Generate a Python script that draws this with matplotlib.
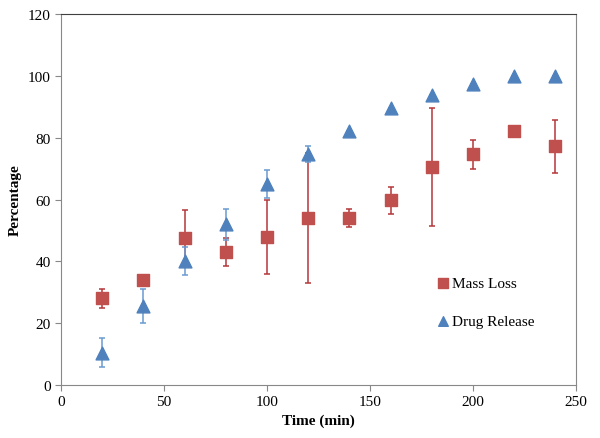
import matplotlib
matplotlib.use("Agg")
import matplotlib.pyplot as plt

time = [20, 40, 60, 80, 100, 120, 140, 160, 180, 200, 220, 240]
mass_loss = [28, 34, 47.5, 43, 48, 54, 54, 59.7, 70.5, 74.7, 82, 77.2]
mass_err = [3, 0, 9, 4.5, 12, 21, 2.8, 4.5, 19, 4.7, 0, 8.6]
drug_release = [10.5, 25.5, 40, 52, 65, 74.7, 82, 89.5, 93.7, 97.5, 100, 100]
drug_err = [4.7, 5.5, 4.5, 5, 4.5, 2.5, 0, 0, 0, 0, 0, 0]

red = '#C0504D'
blue = '#4F81BD'

plt.rcParams['font.family'] = ['Liberation Serif', 'DejaVu Serif']

fig = plt.figure(figsize=(6, 4.39), dpi=100)
ax = fig.add_axes([0.1017, 0.1207, 0.8583, 0.8451])

ax.errorbar(time, mass_loss, yerr=mass_err, fmt='none', ecolor='#B5373A',
            elinewidth=1.1, capsize=2, capthick=1.1)
ax.errorbar(time, drug_release, yerr=drug_err, fmt='none', ecolor='#6A9AD0',
            elinewidth=1.1, capsize=2, capthick=1.1)
ax.scatter(time, mass_loss, marker='s', s=85, color=red, label='Mass Loss', zorder=3)
ax.scatter(time, drug_release, marker='^', s=85, color=blue, label='Drug Release', zorder=3)

ax.set_xlim(0, 250)
ax.set_ylim(0, 120)
ax.set_xticks(range(0, 251, 50))
ax.set_yticks(range(0, 121, 20))
ax.tick_params(direction='out', length=4, color='#888888', labelsize=11)
for s in ax.spines.values():
    s.set_color('#888888')
ax.spines['top'].set_color('#404040')

ax.set_xlabel('Time (min)', fontweight='bold', fontsize=11)
ax.set_ylabel('Percentage', fontweight='bold', fontsize=11)

ax.legend(loc='upper left', bbox_to_anchor=(0.7, 0.33), frameon=False,
          fontsize=11, handletextpad=0.1, labelspacing=1.6, markerscale=0.75,
          handlelength=1)

fig.savefig('out.png', dpi=100)
